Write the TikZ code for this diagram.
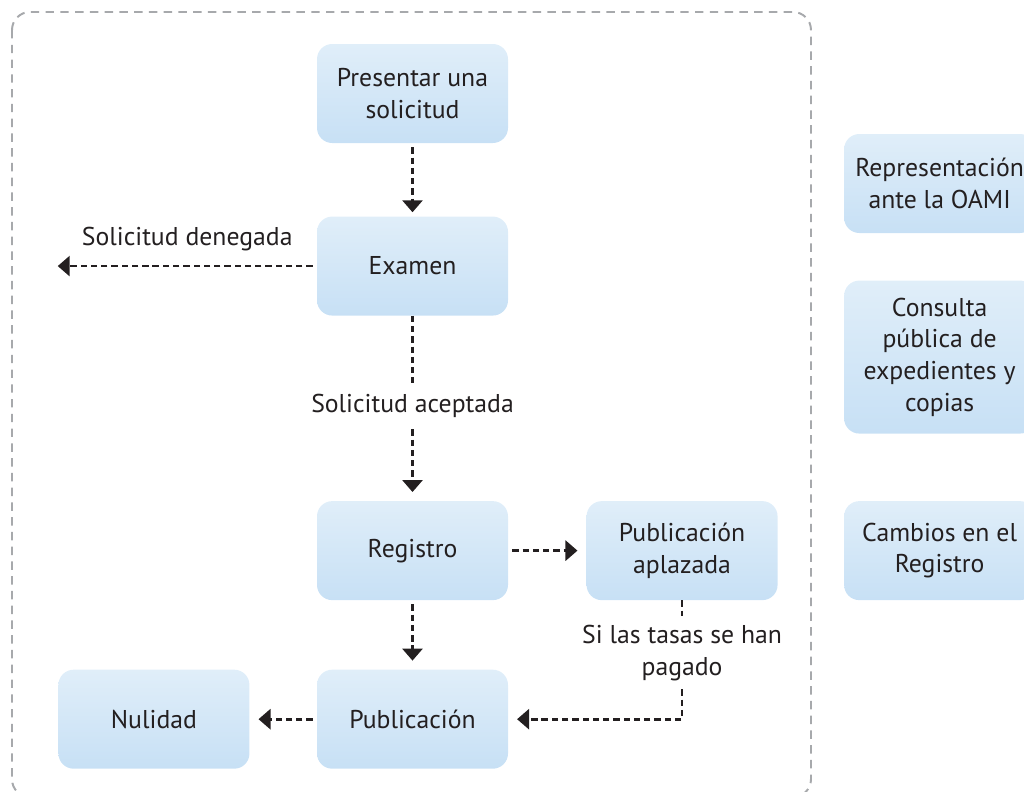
\documentclass[tikz,border=0pt]{standalone}
\usepackage{fontspec}
\setmainfont{PT Sans}
\usetikzlibrary{positioning,arrows.meta}
\definecolor{boxtop}{RGB}{224,238,249}
\definecolor{boxbot}{RGB}{199,224,245}
\definecolor{ink}{RGB}{35,31,32}
\definecolor{frame}{RGB}{167,169,172}

\begin{document}
\begin{tikzpicture}[
    node distance=1.8cm and 1.7cm,
    box/.style={rectangle, rounded corners=0.38cm, top color=boxtop, bottom color=boxbot, minimum width=4.775cm, minimum height=2.475cm, align=center, text=ink, font=\fontsize{18.3}{22.5}\selectfont},
    tag/.style={align=center, text=ink, inner sep=2pt, font=\fontsize{18.3}{22.5}\selectfont},
    arrow/.style={-{Triangle[length=0.3cm, width=0.5cm]}, line width=2pt, dash pattern=on 4.5pt off 2.8pt, draw=ink, shorten <=0.1cm, shorten >=0.22cm},
    line/.style={line width=2pt, dash pattern=on 4.5pt off 2.8pt, draw=ink}
]
\useasboundingbox (0,0) rectangle (25.6,-19.8);
\clip (0,0) rectangle (25.6,-19.8);

% Outer frame
\draw[frame, line width=1.4pt, dash pattern=on 6pt off 4.5pt, rounded corners=0.45cm] (0.3,-0.3) rectangle (20.275,-19.93);

% Main column
\node[box] (pres) at (10.3125,-2.3375) {Presentar una\\solicitud};
\node[box, below=1.825cm of pres] (exam) {Examen};
\node[tag, inner sep=8pt, below=1.675cm of exam] (acc) {Solicitud aceptada};
\node[box, below=4.625cm of exam] (reg) {Registro};
\node[box, below=1.725cm of reg] (pub) {Publicación};
\node[box, left=1.675cm of pub] (nul) {Nulidad};
\node[box, right=1.95cm of reg] (apl) {Publicación\\aplazada};
\node[tag, inner sep=6pt, below=0.4cm of apl] (tasas) {Si las tasas se han\\pagado};
\coordinate[left=6.475cm of exam] (deny);

% Side column
\node[box, right=1.65cm of apl] (camb) {Cambios en el\\Registro};
\node[box, minimum height=3.825cm, above=1.675cm of camb] (cons) {Consulta\\pública de\\expedientes y\\copias};
\node[box, above=1.175cm of cons] (rep) {Representación\\ante la OAMI};

% Arrows
\draw[arrow, shorten >=0.1cm] (pres) -- (exam);
\draw[arrow, shorten >=0cm] (exam.west) -- (deny) node[tag, midway, above=0.28cm] {Solicitud denegada};
\draw[line] (exam.south) -- (acc.north);
\draw[arrow, shorten <=0cm] (acc.south) -- (reg.north);
\draw[arrow] (reg) -- (apl);
\draw[arrow] (reg) -- (pub);
\draw[arrow] (pub) -- (nul);
\draw[line] (apl.south) -- (tasas.north);
\draw[arrow, shorten <=0cm] (tasas.south) |- (pub.east);

\end{tikzpicture}
\end{document}
